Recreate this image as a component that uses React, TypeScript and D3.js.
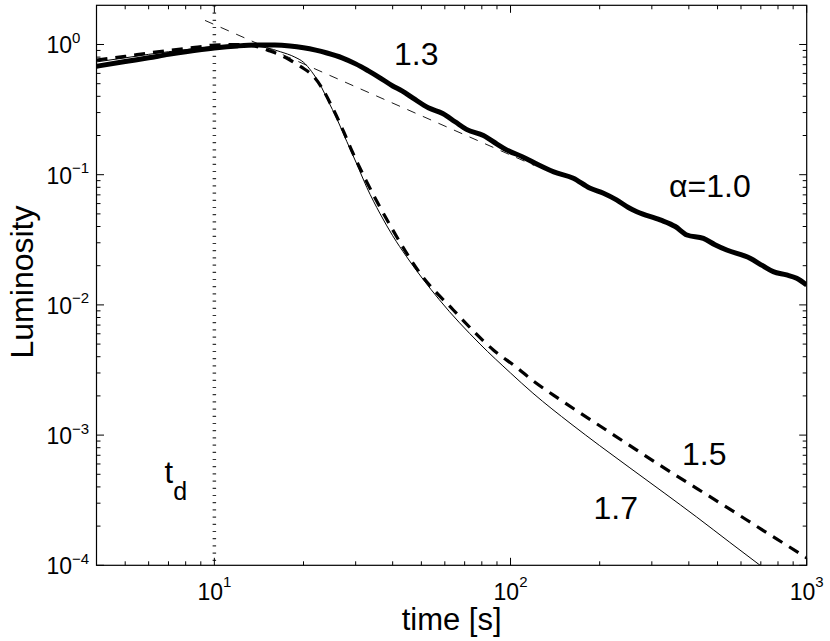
import React from 'react';
import * as d3 from 'd3';

// ---- data (time in s, luminosity normalised) ----
const timeAlpha10 = [4, 5, 6, 7, 8, 10, 12, 14, 16, 18, 20, 22, 24, 27, 30, 33, 36, 40, 43, 47, 53, 59, 65, 71, 81, 90, 97, 110, 125, 140, 163, 185, 206, 228, 250, 267, 320, 360, 394, 448, 490, 537, 644, 710, 771, 855, 925, 1000];
const lumAlpha10 = [0.68, 0.74, 0.79, 0.84, 0.88, 0.94, 0.975, 0.99, 0.99, 0.975, 0.945, 0.905, 0.86, 0.79, 0.71, 0.63, 0.56, 0.48, 0.44, 0.385, 0.325, 0.295, 0.255, 0.223, 0.2, 0.172, 0.155, 0.137, 0.118, 0.105, 0.094, 0.079, 0.072, 0.064, 0.056, 0.052, 0.045, 0.04, 0.0344, 0.0324, 0.029, 0.0264, 0.0228, 0.02, 0.018, 0.017, 0.016, 0.0142];

const timeAlpha15 = [4, 5, 6, 7, 8.6, 10, 12, 13.5, 15.2, 16.7, 18, 19.7, 21.6, 23, 25, 27.3, 29.3, 32.7, 36, 40.2, 49.5, 64.1, 87.5, 105, 119.4, 140, 163, 200, 253, 330, 425, 550, 716, 850, 1000];
const lumAlpha15 = [0.76, 0.81, 0.86, 0.9, 0.95, 0.99, 1.0, 0.98, 0.9, 0.83, 0.76, 0.67, 0.57, 0.47, 0.33, 0.215, 0.148, 0.088, 0.058, 0.037, 0.0175, 0.00914, 0.00451, 0.0033, 0.0026, 0.00202, 0.0016, 0.00118, 0.00083, 0.00056, 0.00039, 0.00027, 0.000184, 0.000144, 0.000114];

const timeAlpha17 = [4, 5, 6, 7, 8.6, 10, 12, 13.5, 15, 16.7, 18.7, 20, 21.3, 23, 24.2, 25.9, 28, 30.3, 32.7, 36.3, 40, 44.6, 57.4, 78.9, 100, 119, 160, 200, 253, 330, 425, 550, 696, 760];
const lumAlpha17 = [0.735, 0.79, 0.84, 0.88, 0.93, 0.965, 0.985, 0.975, 0.945, 0.88, 0.8, 0.73, 0.62, 0.47, 0.37, 0.27, 0.18, 0.12, 0.08, 0.05, 0.034, 0.0234, 0.011, 0.005, 0.003, 0.0021, 0.00122, 0.00083, 0.00056, 0.00036, 0.000235, 0.00015, 0.0001, 0.0000857];

// t^-1 guide line
const powerLawTime = [9.3, 120];
const powerLawLum = [1.53, 0.118];

const tDecay = 10;

const xMajorTicks = [10, 100, 1000];
const xTickExponents = ['1', '2', '3'];
const xMinorTicks = [5, 6, 7, 8, 9, 20, 30, 40, 50, 60, 70, 80, 90, 200, 300, 400, 500, 600, 700, 800, 900];
const yMajorTicks = [1e-4, 1e-3, 1e-2, 1e-1, 1];
const yTickExponents = ['\u22124', '\u22123', '\u22122', '\u22121', '0'];
const yMinorTicks = [1e-4, 1e-3, 1e-2, 1e-1, 1].flatMap(d => [2, 3, 4, 5, 6, 7, 8, 9].map(k => k * d)).filter(v => v < 2);

const W = 830;
const H = 641;
const margin = { top: 5.3, right: 23.3, bottom: 75.7, left: 96.5 };
const FONT = '"Liberation Sans", Arial, Helvetica, sans-serif';

const App: React.FC = () => {
  const x = d3.scaleLog().domain([4, 1000]).range([margin.left, W - margin.right]);
  const y = d3.scaleLog().domain([1e-4, 2]).range([H - margin.bottom, margin.top]);
  const x0 = margin.left, x1 = W - margin.right, y0 = margin.top, y1 = H - margin.bottom;

  const line = d3.line<[number, number]>()
    .x(d => x(d[0]))
    .y(d => y(d[1]))
    .curve(d3.curveMonotoneX);

  const zip = (ts: number[], ls: number[]) => ts.map((t, i) => [t, ls[i]] as [number, number]);

  const majorLen = 7.5;
  const minorLen = 4;

  return (
    <svg width={W} height={H} style={{ position: 'absolute', left: 0, top: 0, background: '#fff' }} fontFamily={FONT}>
      <defs>
        <clipPath id="plot">
          <rect x={x0} y={y0} width={x1 - x0} height={y1 - y0} />
        </clipPath>
      </defs>

      <g clipPath="url(#plot)">
        {/* t_d marker */}
        <line x1={x(tDecay)} x2={x(tDecay)} y1={y0} y2={y1} stroke="#333" strokeWidth={3.5} strokeDasharray="1.2,6" />
        {/* power law guide */}
        <path d={line(zip(powerLawTime, powerLawLum)) || ''} fill="none" stroke="#000" strokeWidth={0.9} strokeDasharray="9,8" />
        <path d={line(zip(timeAlpha17, lumAlpha17)) || ''} fill="none" stroke="#000" strokeWidth={1} />
        <path d={line(zip(timeAlpha15, lumAlpha15)) || ''} fill="none" stroke="#000" strokeWidth={3.2} strokeDasharray="11,8" />
        <path d={line(zip(timeAlpha10, lumAlpha10)) || ''} fill="none" stroke="#000" strokeWidth={5} strokeLinejoin="round" />
      </g>

      {/* ticks, inward on all four sides */}
      <g stroke="#000" strokeWidth={1}>
        {xMajorTicks.map(v => (
          <g key={'xM' + v}>
            <line x1={x(v)} x2={x(v)} y1={y1} y2={y1 - majorLen} />
            <line x1={x(v)} x2={x(v)} y1={y0} y2={y0 + majorLen} />
          </g>
        ))}
        {xMinorTicks.map(v => (
          <g key={'xm' + v}>
            <line x1={x(v)} x2={x(v)} y1={y1} y2={y1 - minorLen} />
            <line x1={x(v)} x2={x(v)} y1={y0} y2={y0 + minorLen} />
          </g>
        ))}
        {yMajorTicks.map(v => (
          <g key={'yM' + v}>
            <line x1={x0} x2={x0 + majorLen} y1={y(v)} y2={y(v)} />
            <line x1={x1} x2={x1 - majorLen} y1={y(v)} y2={y(v)} />
          </g>
        ))}
        {yMinorTicks.map(v => (
          <g key={'ym' + v}>
            <line x1={x0} x2={x0 + minorLen} y1={y(v)} y2={y(v)} />
            <line x1={x1} x2={x1 - minorLen} y1={y(v)} y2={y(v)} />
          </g>
        ))}
      </g>
      <rect x={x0} y={y0} width={x1 - x0} height={y1 - y0} fill="none" stroke="#000" strokeWidth={1.2} />

      {/* tick labels */}
      {xMajorTicks.map((v, i) => (
        <text key={'xl' + v} x={x(v)} y={600} textAnchor="middle" fontSize={23} fill="#000">
          10<tspan dy={-13} fontSize={15}>{xTickExponents[i]}</tspan>
        </text>
      ))}
      {yMajorTicks.map((v, i) => (
        <text key={'yl' + v} x={46.5} y={y(v) + 9} fontSize={23} fill="#000">
          10<tspan dy={-10.5} fontSize={15}>{yTickExponents[i]}</tspan>
        </text>
      ))}

      {/* axis titles */}
      <text x={(x0 + x1) / 2} y={630} textAnchor="middle" fontSize={31} fill="#000">time [s]</text>
      <text transform={`translate(33,${282}) rotate(-90)`} textAnchor="middle" fontSize={32} fill="#000">Luminosity</text>

      {/* curve annotations */}
      <text x={394} y={65} fontSize={32} fill="#000">1.3</text>
      <text x={669} y={197} fontSize={32} fill="#000">{'\u03b1=1.0'}</text>
      <text x={682} y={465} fontSize={32} fill="#000">1.5</text>
      <text x={593.5} y={519} fontSize={32} fill="#000">1.7</text>
      <text x={164.5} y={483} fontSize={31} fill="#000">
        t<tspan dy={17} fontSize={25}>d</tspan>
      </text>
    </svg>
  );
};

export default App;
